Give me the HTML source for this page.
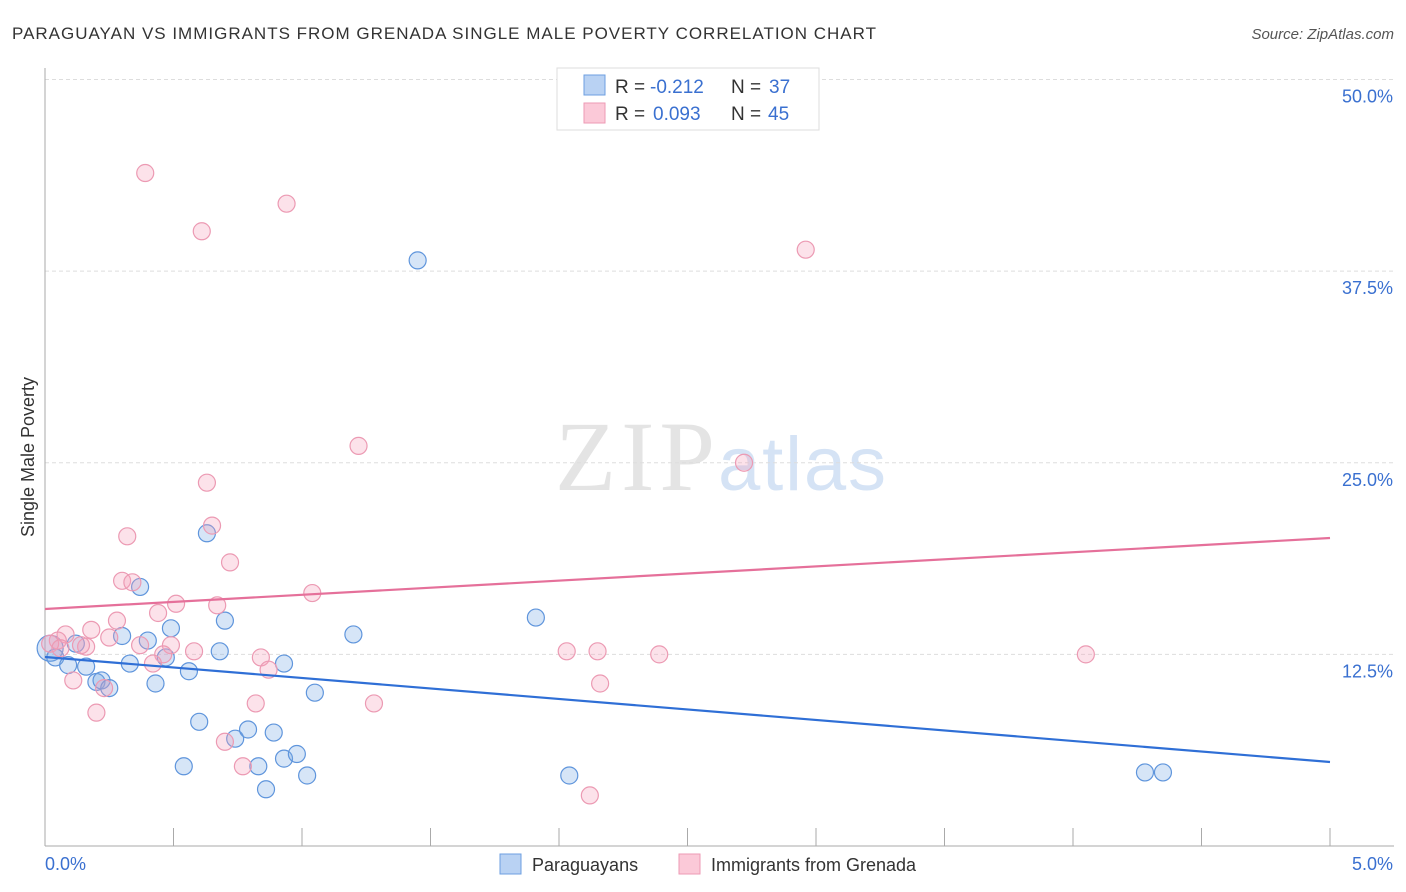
<!DOCTYPE html>
<html><head><meta charset="utf-8"><style>
body{margin:0;background:#fff;font-family:"Liberation Sans",sans-serif;}
svg{display:block}
</style></head><body>
<svg id="c" width="1406" height="892" xmlns="http://www.w3.org/2000/svg">
<text x="12" y="39" font-size="17" fill="#333" textLength="864">PARAGUAYAN VS IMMIGRANTS FROM GRENADA SINGLE MALE POVERTY CORRELATION CHART</text>
<text x="1394" y="39" font-size="15" fill="#555" font-style="italic" text-anchor="end">Source: ZipAtlas.com</text>
<text x="34" y="457" font-size="18" fill="#333" text-anchor="middle" transform="rotate(-90 34 457)">Single Male Poverty</text>
<text x="555" y="490" font-size="100" fill="#e4e4e4" textLength="160" font-family="Liberation Serif">ZIP</text>
<text x="718" y="490" font-size="76" fill="#d5e3f5" textLength="168">atlas</text>
<g id="grid"></g><g id="pts"></g><g id="lines"></g>
<g>
<rect x="557" y="68" width="262" height="62" fill="#fff" stroke="#ddd"/>
<rect x="584" y="75" width="21" height="20" fill="#b9d2f3" stroke="#6d9fe0"/>
<rect x="584" y="103" width="21" height="20" fill="#fbc9d8" stroke="#ee9ab4"/>
<text x="615" y="93" font-size="19" fill="#333">R =</text>
<text x="650" y="93" font-size="19" fill="#3a70d0">-0.212</text>
<text x="731" y="93" font-size="19" fill="#333">N =</text>
<text x="769" y="93" font-size="19" fill="#3a70d0">37</text>
<text x="615" y="120" font-size="19" fill="#333">R =</text>
<text x="653" y="120" font-size="19" fill="#3a70d0">0.093</text>
<text x="731" y="120" font-size="19" fill="#333">N =</text>
<text x="768" y="120" font-size="19" fill="#3a70d0">45</text>
</g>
<g>
<rect x="500" y="854" width="21" height="20" fill="#b9d2f3" stroke="#6d9fe0"/>
<text x="532" y="871" font-size="18" fill="#333">Paraguayans</text>
<rect x="679" y="854" width="21" height="20" fill="#fbc9d8" stroke="#ee9ab4"/>
<text x="711" y="871" font-size="18" fill="#333">Immigrants from Grenada</text>
</g>
</svg>
<script>
const xTicks=[0,0.5,1,1.5,2,2.5,3,3.5,4,4.5,5];
const yTicks=[12.5,25,37.5,50];
const yTickLabels=["12.5%","25.0%","37.5%","50.0%"];
const blueX=[0.02,0.04,0.09,0.12,0.16,0.2,0.22,0.25,0.3,0.33,0.37,0.4,0.43,0.47,0.49,0.54,0.56,0.6,0.63,0.68,0.7,0.74,0.79,0.83,0.86,0.89,0.93,0.93,0.98,1.02,1.05,1.2,1.45,1.91,2.04,4.28,4.35];
const blueY=[12.9,12.3,11.8,13.2,11.7,10.7,10.8,10.3,13.7,11.9,16.9,13.4,10.6,12.3,14.2,5.2,11.4,8.1,20.4,12.7,14.7,7.0,7.6,5.2,3.7,7.4,5.7,11.9,6.0,4.6,10.0,13.8,38.2,14.9,4.6,4.8,4.8];
const pinkX=[0.39,0.94,0.61,2.96,1.22,2.72,0.63,0.65,0.32,0.72,0.30,0.34,1.04,0.51,0.67,0.44,0.28,0.18,0.08,0.05,0.02,0.25,0.16,0.37,0.49,0.46,0.42,0.58,0.84,0.87,2.03,2.15,2.39,4.05,2.16,0.11,0.23,0.2,0.82,1.28,0.7,0.77,2.12,0.06,0.14];
const pinkY=[43.9,41.9,40.1,38.9,26.1,25.0,23.7,20.9,20.2,18.5,17.3,17.2,16.5,15.8,15.7,15.2,14.7,14.1,13.8,13.4,13.2,13.6,13.0,13.1,13.1,12.5,11.9,12.7,12.3,11.5,12.7,12.7,12.5,12.5,10.6,10.8,10.3,8.7,9.3,9.3,6.8,5.2,3.3,12.9,13.1];
const blueTrend=[12.33,5.48];
const pinkTrend=[15.46,20.09];
const X=v=>45+v*257, Y=v=>846-v*15.33;
const NS="http://www.w3.org/2000/svg";
function mk(t,a,p){const e=document.createElementNS(NS,t);for(const k in a)e.setAttribute(k,a[k]);p.appendChild(e);return e;}
const g=document.getElementById('grid');
yTicks.forEach((t,i)=>{
 const l=mk('line',{x1:45,x2:1394,y1:Y(t),y2:Y(t),stroke:'#ddd','stroke-dasharray':'4,3'},g);
 
 
 const tx=mk('text',{x:1393,y:Y(t)+23,'font-size':18,fill:'#3a70d0','text-anchor':'end'},g);
 tx.textContent=yTickLabels[i];
 
 
});
const ax=mk('line',{x1:45,x2:45,y1:68,y2:846,stroke:'#aaa'},g);


const bx=mk('line',{x1:45,x2:1394,y1:846,y2:846,stroke:'#aaa'},g);


xTicks.forEach(t=>{
 const l=mk('line',{x1:X(t),x2:X(t),y1:828,y2:846,stroke:'#aaa'},g);
 
 
});
[[0,'start','0.0%'],[5,'end','5.0%']].forEach(([v,a,s])=>{
 const tx=mk('text',{x:X(v)+(v?63:0),y:870,'font-size':18,fill:'#3a70d0','text-anchor':a},g);
 tx.textContent=s;
 
 
});
const p=document.getElementById('pts');
blueX.forEach((x,i)=>{
 const c=mk('circle',{cx:X(x),cy:Y(blueY[i]),r:i===0?13:8.5,fill:'rgba(120,170,230,0.3)',stroke:'#5f95dc','stroke-width':1.2},p);
 
 
});
pinkX.forEach((x,i)=>{
 const c=mk('circle',{cx:X(x),cy:Y(pinkY[i]),r:8.5,fill:'rgba(245,160,185,0.3)',stroke:'#ec9ab3','stroke-width':1.2},p);
 
 
});
const L=document.getElementById('lines');
const bl=mk('line',{x1:X(0),y1:Y(blueTrend[0]),x2:X(5),y2:Y(blueTrend[1]),stroke:'#2f6fd6','stroke-width':2.2},L);


const pl=mk('line',{x1:X(0),y1:Y(pinkTrend[0]),x2:X(5),y2:Y(pinkTrend[1]),stroke:'#e5709a','stroke-width':2.2},L);


</script>
</body></html>
